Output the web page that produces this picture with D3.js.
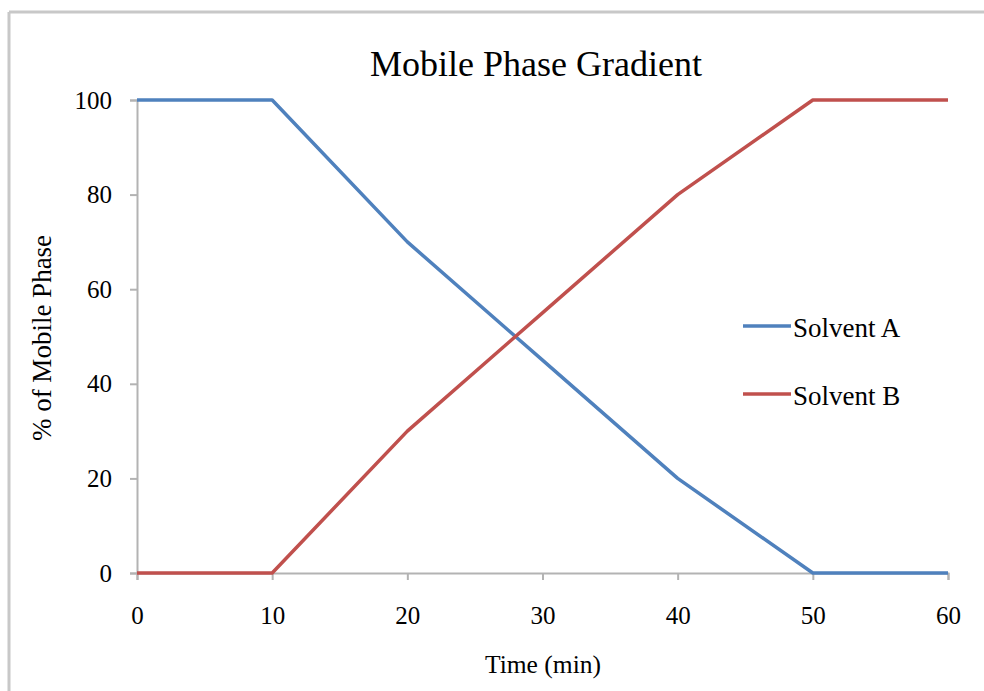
<!DOCTYPE html>
<html>
<head>
<meta charset="utf-8">
<script src="https://cdn.jsdelivr.net/npm/d3@7"></script>
<style>
  body { margin: 0; background: #fff; }
  text { font-family: "Liberation Serif", "Times New Roman", serif; fill: #000; }
</style>
</head>
<body>
<div id="chart"></div>
<script>
const WIDTH = 984
const HEIGHT = 691

// donnees
const times = [0, 10, 20, 30, 40, 50, 60]
const solventA = [100, 100, 70, 45, 20, 0, 0]
const solventB = [0, 0, 30, 55, 80, 100, 100]
const seriesNames = ["Solvent A", "Solvent B"]
const colors = ["#4f81bd", "#c0504d"]
const xTicks = [0, 10, 20, 30, 40, 50, 60]
const yTicks = [0, 20, 40, 60, 80, 100]

const margin = { left: 137, right: 36, top: 100, bottom: 118 }

const svg = d3.select("#chart")
  .append("svg")
  .attr("width", WIDTH)
  .attr("height", HEIGHT)

// cadre gris (seulement haut et gauche visibles)
svg.append("line")
  .attr("x1", 9).attr("y1", 12).attr("x2", WIDTH).attr("y2", 12)
  .attr("stroke", "#c8c8c8").attr("stroke-width", 3)
svg.append("line")
  .attr("x1", 9).attr("y1", 12).attr("x2", 9).attr("y2", HEIGHT)
  .attr("stroke", "#c8c8c8").attr("stroke-width", 3)

const x = d3.scaleLinear()
  .domain([0, 60])
  .range([margin.left, WIDTH - margin.right])

const y = d3.scaleLinear()
  .domain([0, 100])
  .range([HEIGHT - margin.bottom, margin.top])

// axes
const xAxis = svg.append("g")
  .attr("transform", `translate(0,${y(0)})`)
  .call(d3.axisBottom(x).tickValues(xTicks).tickSize(7).tickPadding(26))
const yAxis = svg.append("g")
  .attr("transform", `translate(${x(0)},0)`)
  .call(d3.axisLeft(y).tickValues(yTicks).tickSize(7).tickPadding(18))

for (const ax of [xAxis, yAxis]) {
  ax.select(".domain").attr("stroke", "#b3b3b3").attr("stroke-width", 2)
  ax.selectAll(".tick line").attr("stroke", "#b3b3b3").attr("stroke-width", 2)
  ax.selectAll(".tick text")
    .style("font-family", "'Liberation Serif', 'Times New Roman', serif")
    .style("font-size", "25px")
    .attr("fill", "#000")
}

// lignes
const line = d3.line()
  .x((d, i) => x(times[i]))
  .y(d => y(d))

const allSeries = [solventA, solventB]
allSeries.forEach((s, k) => {
  svg.append("path")
    .datum(s)
    .attr("fill", "none")
    .attr("stroke", colors[k])
    .attr("stroke-width", 3.5)
    .attr("stroke-linejoin", "round")
    .attr("d", line)
})

// titre
svg.append("text")
  .attr("x", 536)
  .attr("y", 76)
  .attr("text-anchor", "middle")
  .style("font-size", "36px")
  .text("Mobile Phase Gradient")

// titres des axes
svg.append("text")
  .attr("x", 543)
  .attr("y", 673)
  .attr("text-anchor", "middle")
  .style("font-size", "25.5px")
  .text("Time (min)")

svg.append("text")
  .attr("transform", "translate(51,338) rotate(-90)")
  .attr("text-anchor", "middle")
  .style("font-size", "27px")
  .text("% of Mobile Phase")

// legende
seriesNames.forEach((name, k) => {
  const ly = 326 + k * 68
  svg.append("line")
    .attr("x1", 743).attr("x2", 791)
    .attr("y1", ly).attr("y2", ly)
    .attr("stroke", colors[k])
    .attr("stroke-width", 3.5)
  svg.append("text")
    .attr("x", 793)
    .attr("y", ly + 11)
    .style("font-size", "27px")
    .text(name)
})
</script>
</body>
</html>
